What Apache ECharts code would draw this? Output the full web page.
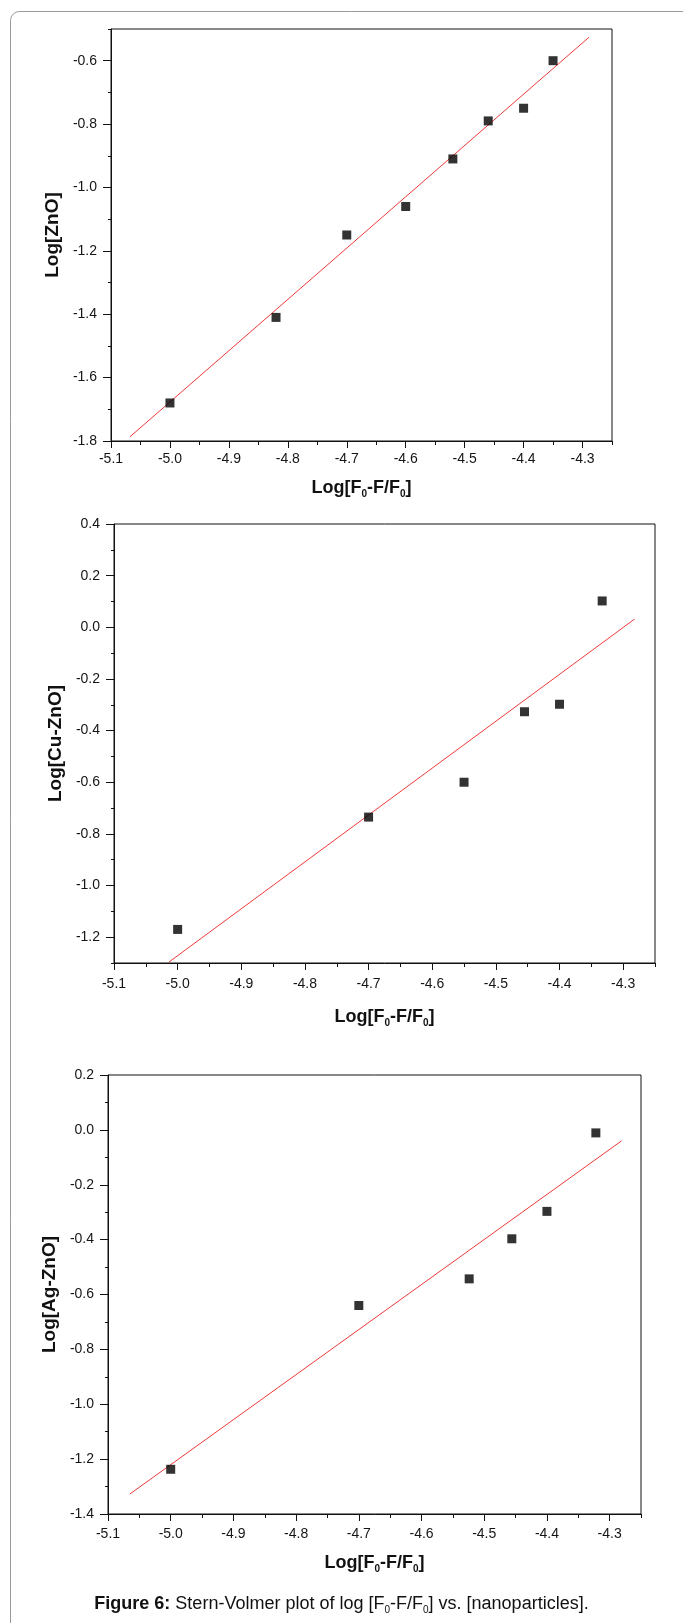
<!DOCTYPE html>
<html>
<head>
<meta charset="utf-8">
<script src="https://cdn.jsdelivr.net/npm/echarts@6/dist/echarts.min.js"></script>
<style>
  html, body { margin: 0; padding: 0; background: #fff; }
  #chart { width: 683px; height: 1623px; }
</style>
</head>
<body>
<div id="chart"></div>
<script>
// ---------- Data ----------
// Panel 1: Log[ZnO]
const x1 = [-5.0, -4.82, -4.7, -4.6, -4.52, -4.46, -4.4, -4.35];
const y1 = [-1.68, -1.41, -1.15, -1.06, -0.91, -0.79, -0.75, -0.6];
const fit1X = [-5.068, -4.289];
const fit1Y = [-1.787, -0.526];

// Panel 2: Log[Cu-ZnO]
const x2 = [-5.0, -4.7, -4.55, -4.455, -4.4, -4.333];
const y2 = [-1.17, -0.735, -0.6, -0.327, -0.298, 0.102];
const fit2X = [-5.014, -4.282];
const fit2Y = [-1.297, 0.032];

// Panel 3: Log[Ag-ZnO]
const x3 = [-5.0, -4.7, -4.524, -4.456, -4.4, -4.322];
const y3 = [-1.237, -0.64, -0.543, -0.397, -0.297, -0.011];
const fit3X = [-5.065, -4.281];
const fit3Y = [-1.327, -0.04];

// Tick labels
const xTicks = [-5.1, -5.0, -4.9, -4.8, -4.7, -4.6, -4.5, -4.4, -4.3];
const yTicks1 = [-1.8, -1.6, -1.4, -1.2, -1.0, -0.8, -0.6];
const yTicks2 = [-1.2, -1.0, -0.8, -0.6, -0.4, -0.2, 0.0, 0.2, 0.4];
const yTicks3 = [-1.4, -1.2, -1.0, -0.8, -0.6, -0.4, -0.2, 0.0, 0.2];

const yNames = ['Log[ZnO]', 'Log[Cu-ZnO]', 'Log[Ag-ZnO]'];
const xName = '{a|Log[F}{s|0}{a|-F/F}{s|0}{a|]}';

// ---------- Layout ----------
const FONT = '"Liberation Sans", Arial, Helvetica, sans-serif';
const grids = [
  { left: 111, top: 29, width: 501, height: 412 },
  { left: 114, top: 524, width: 541, height: 439 },
  { left: 108, top: 1075, width: 533, height: 439 }
];
const yRanges = [[-1.8, -0.5], [-1.3, 0.4], [-1.4, 0.2]];
const yTickSets = [yTicks1, yTicks2, yTicks3];
const xLabelMargins = [11, 14, 13];
const xNameGaps = [36, 43, 38];
const yNameGaps = [45, 47, 48];

const fmt = v => Number(v).toFixed(1);
const black = '#111';
const labelColor = '#151515';

const xAxes = [], yAxes = [], series = [];
grids.forEach((g, i) => {
  xAxes.push({
    type: 'value', gridIndex: i, position: 'bottom',
    min: -5.1, max: -4.25,
    axisLine: { show: true, onZero: false, lineStyle: { color: black, width: 1 } },
    axisTick: { show: true, inside: false, length: 7, customValues: xTicks, lineStyle: { color: black } },
    axisLabel: { show: true, customValues: xTicks, formatter: fmt, margin: xLabelMargins[i],
                 fontFamily: FONT, fontSize: 14, color: labelColor },
    splitLine: { show: false },
    name: xName, nameLocation: 'middle', nameGap: xNameGaps[i],
    nameTextStyle: {
      fontFamily: FONT, color: black,
      rich: {
        a: { fontFamily: FONT, fontSize: 18, fontWeight: 'bold', color: black },
        s: { fontFamily: FONT, fontSize: 10, fontWeight: 'bold', color: black, padding: [12, 0, 0, 0] }
      }
    }
  });
  yAxes.push({
    type: 'value', gridIndex: i, position: 'left',
    min: yRanges[i][0], max: yRanges[i][1],
    axisLine: { show: true, onZero: false, lineStyle: { color: black, width: 1 } },
    axisTick: { show: true, inside: false, length: 8, customValues: yTickSets[i], lineStyle: { color: black } },
    axisLabel: { show: true, customValues: yTickSets[i], formatter: fmt, margin: 14,
                 fontFamily: FONT, fontSize: 14, color: labelColor },
    splitLine: { show: false },
    name: yNames[i], nameLocation: 'middle', nameGap: yNameGaps[i], nameRotate: 90,
    nameTextStyle: { fontFamily: FONT, fontSize: 19, fontWeight: 'bold', color: black }
  });
});
// minor tick axes (overlaid)
grids.forEach((g, i) => {
  xAxes.push({
    type: 'value', gridIndex: i, position: 'bottom',
    min: -5.1, max: -4.25, interval: 0.05,
    axisLine: { show: false, onZero: false },
    axisTick: { show: true, inside: false, length: 4, lineStyle: { color: black } },
    axisLabel: { show: false }, splitLine: { show: false }
  });
  yAxes.push({
    type: 'value', gridIndex: i, position: 'left',
    min: yRanges[i][0], max: yRanges[i][1], interval: 0.1,
    axisLine: { show: false, onZero: false },
    axisTick: { show: true, inside: false, length: 3, lineStyle: { color: black } },
    axisLabel: { show: false }, splitLine: { show: false }
  });
});

const xs = [x1, x2, x3], ys = [y1, y2, y3];
const fxs = [fit1X, fit2X, fit3X], fys = [fit1Y, fit2Y, fit3Y];
for (let i = 0; i < 3; i++) {
  series.push({
    type: 'line', xAxisIndex: i, yAxisIndex: i,
    data: fxs[i].map((v, k) => [v, fys[i][k]]),
    symbol: 'none', silent: true, z: 2,
    lineStyle: { color: '#ee3a3a', width: 1 }
  });
  series.push({
    type: 'scatter', xAxisIndex: i, yAxisIndex: i,
    data: xs[i].map((v, k) => [v, ys[i][k]]),
    symbol: 'rect', symbolSize: 9, z: 3,
    itemStyle: { color: '#000' }
  });
}

const chart = echarts.init(document.getElementById('chart'), null, { renderer: 'canvas' });
chart.setOption({
  animation: false,
  backgroundColor: '#fff',
  textStyle: { fontFamily: FONT },
  title: {
    text: '{b|Figure 6:} Stern-Volmer plot of log [F{s|0}-F/F{s|0}] vs. [nanoparticles].',
    left: 'center', top: 1588,
    textStyle: {
      fontFamily: FONT, fontSize: 18, fontWeight: 'normal', color: '#111',
      rich: {
        b: { fontFamily: FONT, fontSize: 18, fontWeight: 'bold', color: '#111' },
        s: { fontFamily: FONT, fontSize: 10, color: '#111', padding: [12, 0, 0, 0] }
      }
    }
  },
  graphic: [{
    type: 'rect', silent: true, z: -10,
    shape: { x: 10.5, y: 11.5, width: 720, height: 1700, r: 9 },
    style: { fill: 'none', stroke: '#9a9a9a', lineWidth: 1 }
  }],
  grid: grids.map(g => Object.assign({
    show: true, borderColor: black, borderWidth: 1, backgroundColor: 'transparent',
    containLabel: false, outerBoundsMode: 'none'
  }, g)),
  xAxis: xAxes,
  yAxis: yAxes,
  series: series
});
</script>
</body>
</html>
